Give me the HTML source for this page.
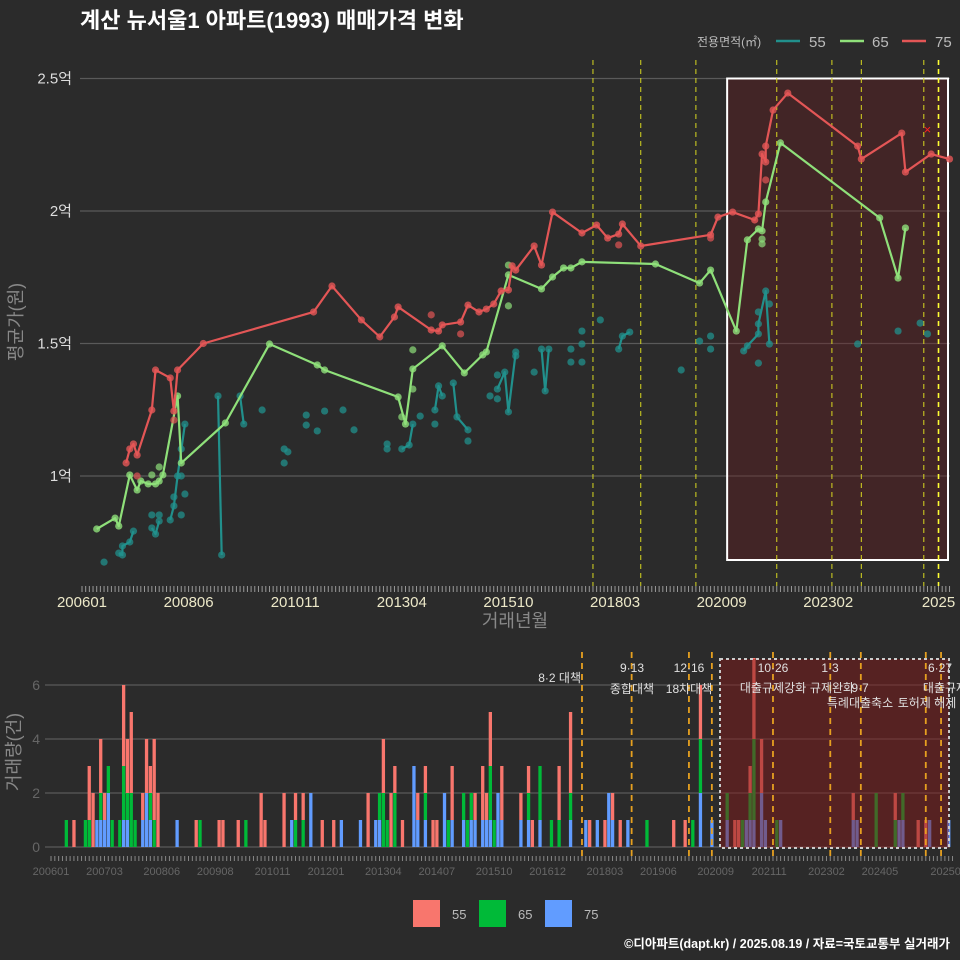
<!DOCTYPE html>
<html><head><meta charset="utf-8">
<style>
html,body{margin:0;padding:0;background:#2b2b2b;overflow:hidden;}
svg{display:block;font-family:"Liberation Sans","Noto Sans CJK KR",sans-serif;}
</style></head>
<body>
<svg id="chart" width="960" height="960" viewBox="0 0 960 960">
<rect x="0" y="0" width="960" height="960" fill="#2b2b2b"/>
<text x="80" y="28" fill="#ffffff" font-size="22" font-weight="bold">계산 뉴서울1 아파트(1993) 매매가격 변화</text>
<g>
<text x="697" y="46" fill="#bbbbbb" font-size="12">전용면적(㎡)</text>
<line x1="776" y1="41" x2="800" y2="41" stroke="#21908c" stroke-width="2.5"/>
<text x="809" y="47" fill="#bbbbbb" font-size="15">55</text>
<line x1="840" y1="41" x2="864" y2="41" stroke="#8fe07a" stroke-width="2.5"/>
<text x="872" y="47" fill="#bbbbbb" font-size="15">65</text>
<line x1="902" y1="41" x2="926" y2="41" stroke="#e35656" stroke-width="2.5"/>
<text x="935" y="47" fill="#bbbbbb" font-size="15">75</text>
</g>
<text transform="translate(22,322) rotate(-90)" text-anchor="middle" fill="#888888" font-size="18">평균가(원)</text>
<text x="515" y="627" text-anchor="middle" fill="#888888" font-size="18">거래년월</text>
<text transform="translate(20,752) rotate(-90)" text-anchor="middle" fill="#888888" font-size="18">거래량(건)</text>
<g>
<rect x="413" y="900" width="27" height="27" fill="#f8766d"/>
<text x="452" y="919" fill="#bbbbbb" font-size="13">55</text>
<rect x="479" y="900" width="27" height="27" fill="#00ba38"/>
<text x="518" y="919" fill="#bbbbbb" font-size="13">65</text>
<rect x="545" y="900" width="27" height="27" fill="#619cff"/>
<text x="584" y="919" fill="#bbbbbb" font-size="13">75</text>
</g>
<text x="950" y="948" text-anchor="end" fill="#ffffff" font-size="12.5" font-weight="bold">©디아파트(dapt.kr) / 2025.08.19 / 자료=국토교통부 실거래가</text>
<g id="topg"></g>
<g id="botg"></g>
</svg>
<script>
// ---------- TOP CHART DATA (month index from 2006-01, price in 만원) ----------
const topTickMonths = [0,29,58,87,116,145,174,203,233];
const topTickLabels = ['200601','200806','201011','201304','201510','201803','202009','202302','2025'];
const yTickValues = [10000,15000,20000,25000];
const yTickLabels = ['1억','1.5억','2억','2.5억'];
const policyMonths = [139,152,167,189,204,212,229,233];

const m75 = [12,13,14,15,19,20,24,25,26,33,63,68,76,81,85,86,95,97,98,103,105,108,110,112,114,116,117,118,123,125,128,136,140,143,146,147,152,171,173,177,183,184,185,186,186,188,192,211,212,223,224,231,236];
const v75 = [10490,11020,11210,10790,12490,14000,13700,12450,14000,15000,16190,17170,15890,15250,16000,16380,15510,15470,15700,15810,16450,16190,16300,16490,16980,17020,17930,17770,18680,17960,19960,19170,19470,18980,19130,19510,18680,19100,19770,19960,19660,19890,22150,21850,22450,23810,24450,22450,21960,22940,21470,22150,21960];
const m75x = [95,103,25,15,146,171,186];
const v75x = [16080,15360,12110,10000,18720,18980,21170];

const m65 = [4,9,10,13,15,16,18,20,21,22,26,27,39,51,64,66,86,88,90,98,104,109,110,116,125,128,131,133,136,156,168,171,178,181,184,185,186,190,217,222,224];
const v65 = [8000,8410,8110,10040,9470,9810,9700,9700,9810,10040,13020,10490,12000,14980,14190,14000,12980,11960,14040,14910,13890,14570,14680,17590,17060,17510,17850,17850,18080,18000,17280,17770,15470,18910,19320,19250,20340,22570,19740,17470,19360];
const m65x = [116,116,90,90,87,21,19,185,185];
const v65x = [17960,16420,14760,13280,12230,10340,10040,18760,18940];

const m55 = [6,10,11,11,13,14,19,19,20,21,21,24,25,25,26,27,27,27,28,28,37,38,43,44,49,55,56,55,61,61,64,66,71,74,83,83,87,89,90,92,96,96,97,98,101,102,105,105,111,113,113,113,115,116,118,118,123,125,126,127,133,133,136,136,136,141,146,147,149,163,168,171,171,180,181,184,184,184,186,187,187,184,211,222,228,230];
const v55 = [6750,7090,7020,7360,7510,7920,8530,8040,7810,8300,8530,8340,8870,9210,10000,10000,8530,11020,11960,9320,13020,7020,13020,11960,12490,11020,10910,10490,12300,11920,11700,12450,12490,11740,11210,11020,11020,11170,11960,12260,12490,11960,13400,13020,13510,12230,11740,11320,13020,13810,13280,12910,13920,12420,14680,14530,13920,14790,13210,14790,14790,14300,15470,14980,14300,15890,14790,15280,15430,14000,15090,15280,14790,14720,14910,15360,15740,16190,16980,16490,14980,14260,14980,15470,15770,15360];
const seg55 = [0,1,1,1,1,1,0,2,2,2,0,3,3,0,3,0,0,0,3,0,4,4,5,5,0,0,0,0,0,0,0,0,0,0,0,0,6,6,6,0,7,0,7,7,8,8,8,0,0,0,9,0,9,9,9,0,0,10,10,10,0,0,0,0,0,0,11,11,11,0,0,0,0,12,12,12,12,0,12,0,12,0,0,0,0,0];
const xMark75 = [230];
const yMark75 = [23060];

// ---------- BOTTOM CHART DATA (month index, counts) ----------
const barMonths = [4,6,9,10,11,12,13,14,15,16,18,19,20,21,22,24,25,26,27,28,33,38,39,44,45,49,51,55,56,61,63,64,66,68,71,74,76,81,83,85,86,87,88,89,90,92,95,96,98,100,101,103,104,105,108,109,110,111,113,114,115,116,117,118,123,125,126,128,131,133,136,140,141,143,145,146,147,149,151,156,163,166,168,170,173,177,179,180,181,182,183,184,186,187,190,191,210,211,216,221,222,223,227,229,230,235];
const cnt55 = [0,1,0,2,2,0,2,1,0,0,0,3,2,3,0,1,2,1,3,2,0,1,0,1,1,1,0,2,1,2,0,1,1,0,1,1,0,0,2,0,0,2,0,2,1,1,0,1,1,1,1,0,0,2,0,0,0,1,2,1,2,0,0,2,1,1,1,0,0,2,3,0,1,0,1,0,1,1,0,0,1,1,0,2,0,0,1,1,0,0,1,3,2,0,0,0,1,0,0,1,0,0,1,1,0,0];
const cnt65 = [1,0,1,1,0,0,1,0,1,1,1,2,1,2,1,0,0,1,1,0,0,0,1,0,0,0,1,0,0,0,0,1,1,0,0,0,0,0,0,0,1,2,1,0,2,0,0,0,1,0,0,0,1,0,1,1,1,0,0,0,2,1,0,0,0,1,0,2,1,1,1,0,0,0,0,0,0,0,0,1,0,0,1,2,0,1,0,0,1,0,1,3,0,0,1,0,0,0,2,1,0,1,0,0,0,0];
const cnt75 = [0,0,0,0,0,1,1,1,2,0,0,1,1,0,0,1,2,1,0,0,1,0,0,0,0,0,0,0,0,0,1,0,0,2,0,0,1,1,0,1,1,0,0,0,0,0,3,1,1,0,0,2,0,1,1,0,1,1,1,1,1,0,2,1,1,1,0,1,0,0,1,1,0,1,0,2,1,0,1,0,0,0,0,2,1,1,0,0,0,1,1,1,2,1,0,1,1,1,0,0,1,1,0,0,1,1];
const botTickMonths = [0,14,29,43,58,72,87,101,116,130,145,159,174,188,203,217,235];
const botTickLabels = ['200601','200703','200806','200908','201011','201201','201304','201407','201510','201612','201803','201906','202009','202111','202302','202405','202508'];
const yBotTicks = [0,2,4,6];
const policyMonthsB = [139,152,167,173,189,204,212,229,233];

// ---------- helpers ----------
const NS='http://www.w3.org/2000/svg';
function mk(tag, attrs, parent){const e=document.createElementNS(NS,tag);for(const k in attrs)e.setAttribute(k,attrs[k]);parent.appendChild(e);return e;}
const xT = m => 82 + m*3.676;
const yT = v => 476 - (v-10000)*0.0265;
const xB = m => 51 + m*3.82;
const yB = c => 847 - c*27;

const topG = document.getElementById('topg');
const botG = document.getElementById('botg');

yTickValues.forEach((v,i)=>{
  const g = mk('line',{x1:80,x2:950,y1:yT(v),y2:yT(v),stroke:'#5a5a5a','stroke-width':1.2},topG);
  
  
  const t = mk('text',{x:72,y:yT(v)+5,'text-anchor':'end',fill:'#dddddd','font-size':15},topG);
  t.textContent = yTickLabels[i];
  
  
});
for(let m=0;m<=236;m++){
  const tk = mk('line',{x1:xT(m),x2:xT(m),y1:586,y2:592,stroke:'#999','stroke-width':1},topG);
  
  
}
topTickMonths.forEach((m,i)=>{
  const t = mk('text',{x:xT(m),y:607,'text-anchor':'middle',fill:'#ece8c8','font-size':15},topG);
  t.textContent = topTickLabels[i];
  
  
});
const hb = mk('rect',{x:xT(175.5),y:yT(25000),width:948-xT(175.5),height:yT(6830)-yT(25000),fill:'rgba(110,25,30,0.35)',stroke:'#ffffff','stroke-width':2},topG);


policyMonths.forEach((m,i)=>{
  const l = mk('line',{x1:xT(m),x2:xT(m),y1:60,y2:586,stroke:i===policyMonths.length-1?'#ffff33':'#d8d820','stroke-width':i===policyMonths.length-1?1.6:1,'stroke-dasharray':'5,4'},topG);
  
  
});

function drawLine(ms,vs,color,name,parent){
  const pts = ms.map((m,i)=>xT(m)+','+yT(vs[i])).join(' ');
  const p = mk('polyline',{points:pts,fill:'none',stroke:color,'stroke-width':2.2,'stroke-linejoin':'round'},parent);
  
  
}
function drawPts(ms,vs,color,name,parent,op){
  ms.forEach((m,i)=>{
    const c = mk('circle',{cx:xT(m),cy:yT(vs[i]),r:3.6,fill:color,'fill-opacity':op},parent);
    
    
  });
}
const segIds=[...new Set(seg55)].filter(s=>s>0);
segIds.forEach(s=>{
  const ms=[],vs=[];
  seg55.forEach((g,i)=>{if(g===s){ms.push(m55[i]);vs.push(v55[i]);}});
  drawLine(ms,vs,'#21908c','line-55-segment',topG);
});
drawPts(m55,v55,'#21908c','point-55',topG,0.75);
drawLine(m65,v65,'#8fe07a','line-65',topG);
drawPts(m65,v65,'#8fe07a','point-65',topG,0.8);
drawPts(m65x,v65x,'#8fe07a','point-65',topG,0.7);
drawLine(m75,v75,'#e35656','line-75',topG);
drawPts(m75,v75,'#e35656','point-75',topG,0.8);
drawPts(m75x,v75x,'#e35656','point-75',topG,0.7);
xMark75.forEach((m,i)=>{
  const t = mk('text',{x:xT(m),y:yT(yMark75[i])+4,'text-anchor':'middle',fill:'#ff2020','font-size':13},topG);
  t.textContent='×';
  
  
});

yBotTicks.forEach(c=>{
  const g = mk('line',{x1:45,x2:950,y1:yB(c),y2:yB(c),stroke:'#5a5a5a','stroke-width':1.2},botG);
  
  
  const t = mk('text',{x:40,y:yB(c)+5,'text-anchor':'end',fill:'#666','font-size':14},botG);
  t.textContent = c;
  
  
});
barMonths.forEach((m,i)=>{
  const parts=[[cnt75[i],'#619cff','bar-75'],[cnt65[i],'#00ba38','bar-65'],[cnt55[i],'#f8766d','bar-55']];
  let base=0;
  parts.forEach(p=>{
    if(p[0]>0){
      const r = mk('rect',{x:xB(m)-1.6,y:yB(base+p[0]),width:3.3,height:p[0]*27,fill:p[1]},botG);
      
      
      base+=p[0];
    }
  });
});
const bb = mk('rect',{x:720,y:659,width:229,height:189,fill:'rgba(130,25,25,0.5)',stroke:'#cccccc','stroke-width':2,'stroke-dasharray':'3,3'},botG);


policyMonthsB.forEach(m=>{
  const l = mk('line',{x1:xB(m),x2:xB(m),y1:652,y2:858,stroke:'#e6a020','stroke-width':1.8,'stroke-dasharray':'6,5'},botG);
  
  
});
for(let m=0;m<=236;m++){
  const tk = mk('line',{x1:xB(m),x2:xB(m),y1:856,y2:861,stroke:'#888','stroke-width':1},botG);
  
  
}
botTickMonths.forEach((m,i)=>{
  const t = mk('text',{x:xB(m),y:875,'text-anchor':'middle',fill:'#666','font-size':11},botG);
  t.textContent = botTickLabels[i];
  
  
});
const notes=[['8·2 대책',581,682,'end'],['9·13',632,672,'middle'],['종합대책',632,693,'middle'],['12·16',689,672,'middle'],['18차대책',689,693,'middle'],['10·26',773,672,'middle'],['대출규제강화',773,692,'middle'],['1·3',830,672,'middle'],['규제완화',832,692,'middle'],['9·7',860,692,'middle'],['특례대출축소',860,707,'middle'],['토허제 해제',927,707,'middle'],['6·27',940,672,'middle'],['대출규제',945,692,'middle']];
notes.forEach(n=>{
  const t = mk('text',{x:n[1],y:n[2],'text-anchor':n[3],fill:'#e0e0e0','font-size':12},botG);
  t.textContent=n[0];
  
  
});
</script>
</body></html>
